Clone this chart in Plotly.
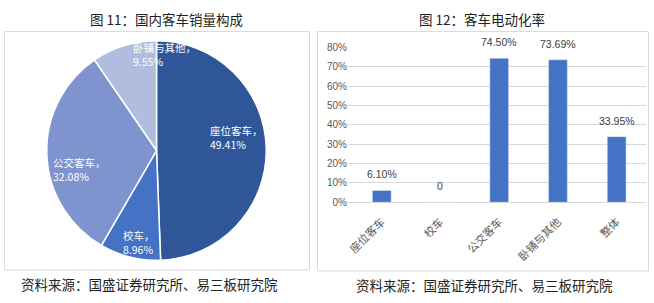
import math
import plotly.graph_objects as go

# ---------------- data ----------------
pie_labels = ["座位客车", "校车", "公交客车", "卧铺与其他"]
pie_values = [49.41, 8.96, 32.08, 9.55]
pie_colors = ["#30569A", "#4472C4", "#7F93CF", "#B1BDDE"]

bar_categories = ["座位客车", "校车", "公交客车", "卧铺与其他", "整体"]
bar_values = [6.10, 0.0, 74.50, 73.69, 33.95]
bar_text = ["6.10%", "0", "74.50%", "73.69%", "33.95%"]
y_ticks = [0, 10, 20, 30, 40, 50, 60, 70, 80]
y_ticklabels = [f"{v}%" for v in y_ticks]

title_left = "图 11：国内客车销量构成"
title_right = "图 12：客车电动化率"
source_text = "资料来源：国盛证券研究所、易三板研究院"

W, H = 654, 303
FONT = "Noto Sans CJK SC"


def px(x):
    return x / W


def py(y):
    return 1 - y / H


fig = go.Figure()

# ---------------- pie ----------------
pie_cx, pie_cy, pie_r = 155, 150.5, 113.5
fig.add_trace(go.Pie(
    labels=pie_labels, values=pie_values, sort=False, direction="clockwise",
    rotation=0, marker=dict(colors=pie_colors, line=dict(color="white", width=1.5)),
    textinfo="none", hoverinfo="label+percent", showlegend=False,
    domain=dict(x=[px(pie_cx - pie_r), px(pie_cx + pie_r)],
                y=[py(pie_cy + pie_r), py(pie_cy - pie_r)]),
))

# pie labels placed from the slice mid-angles (left edge of text block)
label_tweak = [(0.69, 0, -12), (0.86, 4, 0), (0.70, 0, 17), (0.885, 35, -3)]
label_w = [53, 32, 53, 62]
total = sum(pie_values)
cum = 0.0
annotations = []
for lab, val, (rf, dx, dy), lw in zip(pie_labels, pie_values, label_tweak, label_w):
    mid = (cum + val / 2) / total * 2 * math.pi
    cum += val
    x = pie_cx + rf * pie_r * math.sin(mid) + dx
    y = pie_cy - rf * pie_r * math.cos(mid) + dy
    annotations.append(dict(
        x=px(x - lw / 2), y=py(y), xref="paper", yref="paper", showarrow=False,
        text=f"{lab}，<br>{val:.2f}%", align="left", xanchor="left", yanchor="middle",
        font=dict(family=FONT, size=10.5, color="white"),
    ))

# ---------------- bars ----------------
fig.add_trace(go.Bar(
    x=bar_categories, y=bar_values, marker_color="#4472C4", width=0.32,
    showlegend=False, xaxis="x", yaxis="y", hoverinfo="x+y",
))
for c, v, t in zip(bar_categories, bar_values, bar_text):
    annotations.append(dict(
        x=c, y=v, xref="x", yref="y", text=t, showarrow=False,
        yanchor="bottom", yshift=8,
        font=dict(family="Liberation Sans", size=10.5, color="#404040"),
    ))

# titles and sources
annotations += [
    dict(x=px(165), y=py(14), xref="paper", yref="paper", text=title_left,
         showarrow=False, xanchor="center", yanchor="middle",
         font=dict(family=FONT, size=13.5, color="#222222")),
    dict(x=px(481), y=py(14), xref="paper", yref="paper", text=title_right,
         showarrow=False, xanchor="center", yanchor="middle",
         font=dict(family=FONT, size=13.5, color="#222222")),
    dict(x=px(17), y=py(289), xref="paper", yref="paper", text=source_text,
         showarrow=False, xanchor="left", yanchor="middle",
         font=dict(family=FONT, size=13.5, color="#222222")),
    dict(x=px(353), y=py(290), xref="paper", yref="paper", text=source_text,
         showarrow=False, xanchor="left", yanchor="middle",
         font=dict(family=FONT, size=13.5, color="#222222")),
]

shapes = [
    dict(type="rect", xref="paper", yref="paper", x0=px(2.5), x1=px(308.5),
         y0=py(274), y1=py(27.5), line=dict(color="#D9D9D9", width=1)),
    dict(type="rect", xref="paper", yref="paper", x0=px(316.5), x1=px(648.5),
         y0=py(275), y1=py(27.5), line=dict(color="#D9D9D9", width=1)),
]

fig.update_layout(
    width=W, height=H, margin=dict(l=0, r=0, t=0, b=0),
    paper_bgcolor="white", plot_bgcolor="white",
    font=dict(family=FONT, color="#595959"),
    xaxis=dict(domain=[px(347), px(646)], range=[-0.576, 4.5], tickangle=-45,
               showgrid=False, showline=False, zeroline=False, ticks="",
               ticklabelstandoff=10,
               tickfont=dict(family=FONT, size=11, color="#595959"), fixedrange=True),
    yaxis=dict(domain=[py(204), py(44)], range=[0, 80.05], tickvals=y_ticks,
               ticktext=y_ticklabels, showgrid=True, gridcolor="#D9D9D9", gridwidth=1,
               zeroline=True, zerolinecolor="#D9D9D9", zerolinewidth=1, showline=False,
               ticks="", tickfont=dict(family="Liberation Sans", size=10, color="#595959"),
               fixedrange=True),
    annotations=annotations, shapes=shapes,
)

fig.write_html("out.html")
